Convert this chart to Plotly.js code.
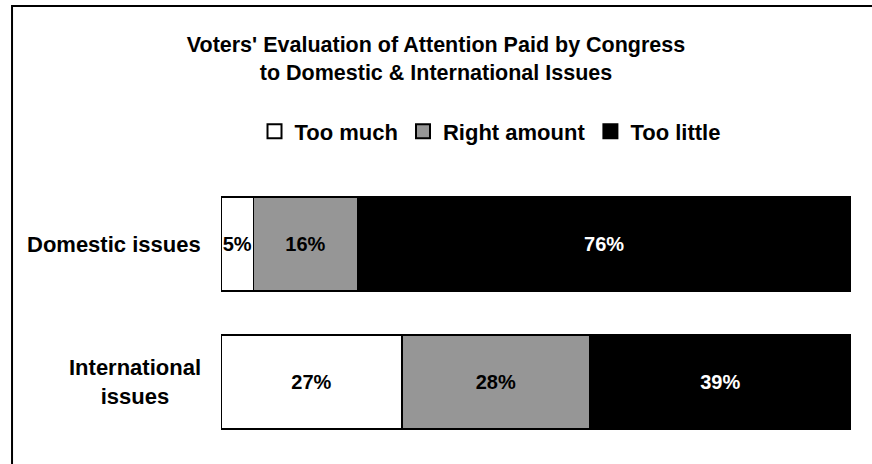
<!DOCTYPE html>
<html>
<head>
<meta charset="utf-8">
<script src="https://cdn.plot.ly/plotly-3.0.1.min.js"></script>
<style>
html,body{margin:0;padding:0;background:#fff;}
#chart{width:872px;height:464px;}
</style>
</head>
<body>
<div id="chart"></div>
<script>
const categories = ["Domestic issues", "International issues"];
const categoryLabels = ["Domestic issues", "International<br>issues"];
const seriesNames = ["Too much", "Right amount", "Too little"];
const tooMuch = [5, 27];
const rightAmount = [16, 28];
const tooLittle = [76, 39];
const seriesColors = ["#ffffff", "#969696", "#000000"];
const textColors = ["#000000", "#000000", "#ffffff"];

const FONT = "Arial, 'Liberation Sans', sans-serif";
const values = [tooMuch, rightAmount, tooLittle];

const barTraces = values.map((v, i) => ({
  type: "bar",
  orientation: "h",
  name: seriesNames[i],
  legendgroup: seriesNames[i],
  showlegend: false,
  y: categories,
  x: v,
  text: v.map(d => d + "%"),
  textposition: "inside",
  insidetextanchor: "middle",
  textangle: 0,
  constraintext: "none",
  textfont: {family: FONT, size: 20, color: textColors[i], weight: "bold"},
  hoverinfo: "skip",
  marker: {color: seriesColors[i], line: {color: "#000000", width: 1.5}}
}));

// legend-only entries (larger square swatches, as in the original)
const legendTraces = seriesNames.map((n, i) => ({
  type: "scatter",
  mode: "markers",
  name: n,
  legendgroup: n,
  x: [null], y: [null],
  hoverinfo: "skip",
  marker: {symbol: "square", size: 14, color: seriesColors[i], line: {color: "#000", width: 2}}
}));

const annotations = categories.map((c, i) => ({
  xref: "paper", yref: "y",
  x: -0.028, y: c,
  xanchor: "right", yanchor: "middle",
  align: "center",
  showarrow: false,
  text: categoryLabels[i],
  font: {family: FONT, size: 22, color: "#000", weight: "bold"}
}));

const layout = {
  width: 872, height: 464,
  margin: {l: 221, r: 21, t: 175, b: 13},
  paper_bgcolor: "#fff", plot_bgcolor: "#fff",
  barmode: "stack",
  barnorm: "percent",
  bargap: 0.32,
  title: {
    text: "Voters' Evaluation of Attention Paid by Congress<br>to Domestic & International Issues",
    x: 0.5, xanchor: "center",
    y: 0.888, yanchor: "middle",
    font: {family: FONT, size: 21.5, color: "#000", weight: "bold"}
  },
  showlegend: true,
  legend: {
    orientation: "h",
    x: 0.427, xanchor: "center",
    y: 1.158, yanchor: "middle",
    traceorder: "normal",
    font: {family: FONT, size: 22, color: "#000", weight: "bold"},
    itemwidth: 30
  },
  xaxis: {range: [0, 100], visible: false, fixedrange: true},
  yaxis: {
    type: "category",
    categoryorder: "array",
    categoryarray: categories,
    autorange: "reversed",
    showticklabels: false,
    showgrid: false, zeroline: false, showline: false, ticks: ""
  },
  annotations: annotations,
  shapes: [{
    type: "rect", xref: "paper", yref: "paper",
    x0: -0.3317, x1: 1.06, y0: -0.08, y1: 1.612,
    line: {color: "#000", width: 2}, fillcolor: "rgba(0,0,0,0)"
  }]
};

Plotly.newPlot("chart", barTraces.concat(legendTraces), layout, {displayModeBar: false, staticPlot: true});
</script>
</body>
</html>
